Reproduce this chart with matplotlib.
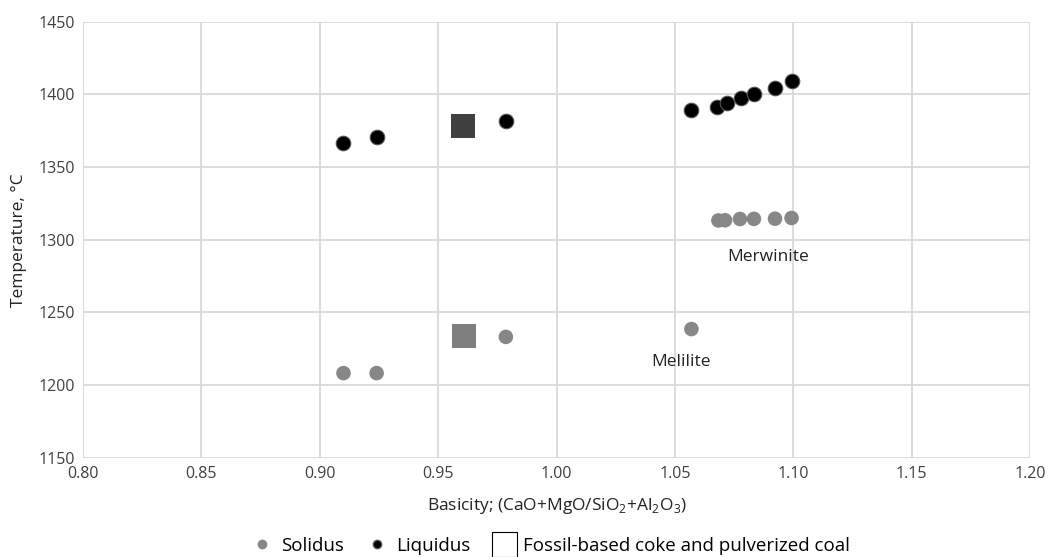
import matplotlib.pyplot as plt
from matplotlib.lines import Line2D

plt.rcParams['font.family'] = ['Open Sans', 'DejaVu Sans']
plt.rcParams['mathtext.fontset'] = 'custom'
plt.rcParams['mathtext.rm'] = 'Open Sans'

# solidus points
sol_x = [0.910, 0.924, 0.9786, 1.057, 1.0684, 1.0712, 1.0775, 1.0834, 1.0923, 1.0993]
sol_y = [1208.3, 1208.3, 1233.2, 1238.6, 1313.3, 1313.4, 1314.3, 1314.4, 1314.5, 1315.0]

# liquidus points
liq_x = [0.910, 0.9242, 0.9786, 1.057, 1.0677, 1.0719, 1.0779, 1.0835, 1.0921, 1.0993]
liq_y = [1366.5, 1370.7, 1381.7, 1389.0, 1391.3, 1393.8, 1397.5, 1400.0, 1404.6, 1409.4]

# fossil-based coke and pulverized coal
fossil_x = [0.9610, 0.9604]
fossil_y = [1233.5, 1378.0]
fossil_colors = ['#7f7f7f', '#404040']

labels = ['Merwinite', 'Melilite']
label_x = [1.0895, 1.0526]
label_y = [1288, 1216]

fig = plt.figure(figsize=(10.52, 5.57), dpi=100)
ax = fig.add_axes([0.079, 0.178, 0.900, 0.783])

ax.scatter(sol_x, sol_y, s=110, color='#878787', edgecolors='none', zorder=3)
ax.scatter(liq_x, liq_y, s=110, color='black', edgecolors='#555555', linewidths=0.8, zorder=3)
ax.scatter(fossil_x, fossil_y, s=300, marker='s', c=fossil_colors, edgecolors='none', zorder=4)

for t, x, y in zip(labels, label_x, label_y):
    ax.text(x, y, t, ha='center', va='center', fontsize=12.5, color='#222222')

ax.set_xlim(0.80, 1.20)
ax.set_ylim(1150, 1450)
ax.set_xticks([0.80 + 0.05 * i for i in range(9)])
ax.set_yticks(range(1150, 1451, 50))
ax.xaxis.set_major_formatter(plt.FormatStrFormatter('%.2f'))
ax.grid(True, color='#d9d9d9', linewidth=1.3)
ax.set_axisbelow(True)
for s in ax.spines.values():
    s.set_visible(False)
ax.tick_params(length=0, labelsize=11.5, colors='#404040', pad=6)

ax.set_xlabel('Basicity; (CaO+MgO/SiO$_2$+Al$_2$O$_3$)', fontsize=12.5, color='#222222', labelpad=10)
ax.set_ylabel('Temperature, °C', fontsize=12.5, color='#222222', labelpad=8)

handles = [
    Line2D([], [], marker='o', linestyle='none', markersize=7, color='#878787', markeredgecolor='none'),
    Line2D([], [], marker='o', linestyle='none', markersize=6, color='black', markeredgecolor='#555555'),
    Line2D([], [], marker='s', linestyle='none', markersize=18, markerfacecolor='white', markeredgecolor='black', markeredgewidth=0.8),
]
fig.legend(handles, ['Solidus', 'Liquidus', 'Fossil-based coke and pulverized coal'],
           loc='center', bbox_to_anchor=(0.523, 0.02), ncol=3, frameon=False,
           fontsize=13.5, handletextpad=0.4, columnspacing=1.2, handlelength=1.2)

fig.savefig('out.png', dpi=100)
